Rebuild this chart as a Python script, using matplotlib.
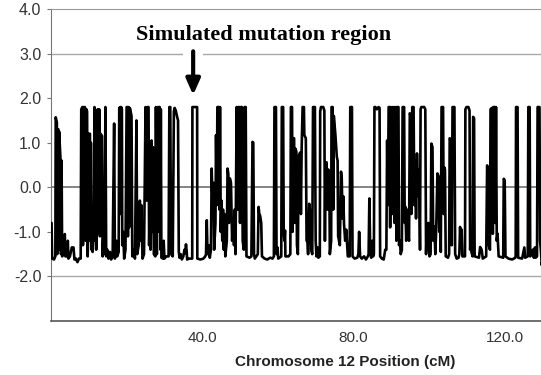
import matplotlib
matplotlib.use("Agg")
import matplotlib.pyplot as plt
from matplotlib.patches import Rectangle

# LOD trace, (position cM, score) pairs in 5 chunks
trace_a = [
    (0.0, -0.80), (0.15, -0.80), (0.3, -1.60), (0.8, -1.62), (1.15, -1.55), (1.25, 1.57),
    (1.55, 1.45), (1.65, -1.50), (1.75, 1.30), (1.95, 1.30), (2.05, -1.40), (2.15, 1.25),
    (2.5, 0.65), (2.65, -1.50), (2.8, 0.60), (2.95, -1.55), (3.3, -1.50), (3.65, -1.05),
    (3.8, -1.55), (4.2, -1.55), (4.45, -1.20), (4.6, -1.60), (5.0, -1.55), (5.5, -1.35),
    (5.95, -1.35), (6.2, -1.62), (6.6, -1.60), (7.0, -1.68), (7.4, -1.60), (7.85, -1.60),
    (8.0, 1.75), (8.3, 1.80), (8.45, -1.30), (8.6, 1.80), (8.8, -0.90), (8.95, 1.80),
    (9.2, -1.20), (9.35, 1.75), (9.55, 1.70), (9.7, -1.55), (9.85, -1.00), (9.95, 1.20),
    (10.3, 1.20), (10.4, -1.20), (10.55, 1.00), (10.7, -1.40), (10.85, -0.70), (11.0, -1.45),
    (11.3, -0.90), (11.5, 1.80), (11.65, -1.20), (11.8, -0.50), (11.95, -1.40), (12.2, -0.90),
    (12.35, 1.75), (12.5, -1.00), (12.6, -0.30), (12.75, 1.75), (12.95, -1.10), (13.1, 1.20),
    (13.5, 1.15), (13.65, -1.55), (13.9, -1.00), (14.1, -1.50), (14.4, 1.80), (14.6, -1.55),
    (14.9, -1.40), (15.2, -1.60), (15.6, -1.45), (15.9, -1.62), (16.3, -1.55), (16.7, 1.43),
    (16.9, -1.60), (17.3, -1.20), (17.5, -1.55), (17.9, -1.45), (18.05, 1.78), (18.3, 1.80),
    (18.45, -0.60), (18.55, 1.80), (18.75, 1.75), (18.85, -1.30), (19.1, -1.00), (19.35, -1.60),
    (19.7, -1.40), (20.0, 1.80), (20.2, 1.80), (20.35, -1.10), (20.5, 1.80), (20.65, -0.90),
    (20.85, 1.78), (21.3, 1.60), (21.5, -1.55), (21.9, -1.40), (22.2, -1.60), (22.6, 1.50),
    (22.8, -1.50), (23.2, -1.30), (23.5, -0.30), (23.7, -1.20), (23.9, -0.40), (24.2, -1.60),
    (24.6, -1.50), (25.0, 1.80), (25.3, -0.30), (25.5, 1.80), (25.8, 1.80), (25.95, -1.30),
]
trace_b = [
    (26.2, -0.20), (26.35, -1.40), (26.6, 1.05), (26.8, -1.00), (27.0, 0.90), (27.2, -1.50),
    (27.6, -1.55), (27.75, 1.80), (28.0, -1.50), (28.2, 1.80), (28.4, -1.00), (28.55, 1.80),
    (28.75, 1.80), (28.95, -1.40), (29.05, 1.75), (29.2, -1.58), (29.6, -1.60), (29.8, -1.20),
    (30.0, -1.60), (30.5, -1.55), (31.1, -1.55), (31.3, 1.80), (31.55, 1.80), (31.75, -1.50),
    (32.2, -1.55), (32.5, 1.70), (32.7, 1.78), (33.0, 1.72), (33.3, 1.60), (33.6, 1.50),
    (33.8, -1.45), (34.0, -1.58), (34.3, -1.50), (34.6, -1.62), (35.0, -1.55), (35.3, -1.40),
    (35.5, -1.48), (35.7, -1.28), (35.9, -1.45), (36.0, -1.62), (36.5, -1.60), (37.0, -1.60),
    (37.35, -1.60), (37.4, 1.80), (38.65, 1.80), (38.7, -1.60), (39.5, -1.62), (40.3, -1.60),
    (40.8, -1.55), (41.0, -1.50), (41.2, -0.74), (41.4, -1.50), (41.8, -1.30), (42.0, -1.58),
    (42.3, -1.40), (42.5, 0.42), (42.8, -0.60), (43.0, 0.10), (43.15, -1.40), (43.5, -0.80),
    (43.65, 1.17), (43.85, -0.40), (44.0, 1.80), (44.4, 1.80), (44.55, -0.50), (44.7, 1.80),
    (44.9, -1.00), (45.1, -0.30), (45.3, -1.20), (45.5, -0.50), (45.7, -1.40), (45.9, -0.60),
    (46.1, -1.55), (46.5, -1.20), (46.7, 0.42), (46.9, 0.30), (47.1, -0.80), (47.3, 0.20),
    (47.6, 0.10), (47.9, -1.20), (48.2, -0.70), (48.4, -1.30), (48.6, -0.50), (48.8, -1.50),
    (49.1, 1.80), (49.4, -0.50), (49.55, 1.80), (49.8, 1.80), (50.0, -0.80), (50.15, 1.80),
    (50.5, 1.80), (50.7, -1.20), (51.0, -1.40), (51.2, 1.80), (51.5, 1.80), (51.7, -1.55),
]
trace_c = [
    (52.5, -1.58), (53.0, -1.55), (53.3, 1.02), (53.5, 1.00), (53.7, -1.50), (53.9, -1.60),
    (54.7, -1.50), (54.9, -0.44), (55.1, -0.60), (55.3, -0.63), (55.6, -0.80), (55.8, -1.55),
    (56.5, -1.60), (57.2, -1.62), (58.0, -1.58), (58.6, -1.60), (58.95, -1.55), (59.1, 1.80),
    (59.5, 1.80), (59.65, -1.50), (59.9, -1.35), (60.1, -1.60), (60.9, -1.55), (61.05, 1.80),
    (61.4, 1.80), (61.55, -1.00), (61.75, -1.20), (61.9, -0.97), (62.0, -1.55), (62.8, -1.55),
    (63.3, -1.50), (63.45, 1.80), (63.75, 1.80), (63.9, -1.00), (64.05, 1.10), (64.3, 1.10),
    (64.45, -0.80), (64.6, 0.87), (64.9, 0.80), (65.05, -1.30), (65.3, -1.50), (65.5, 0.70),
    (65.9, 0.78), (66.1, -0.60), (66.3, 0.90), (66.55, 1.80), (66.9, 1.80), (67.0, 1.17),
    (67.4, 1.10), (67.6, -1.20), (67.8, -1.20), (68.0, -1.50), (68.3, -0.37), (68.6, -0.60),
    (68.8, -1.40), (69.1, -1.50), (69.3, 1.80), (69.8, 1.80), (70.0, -1.20), (70.2, -1.55),
    (70.5, -1.35), (70.7, -1.58), (71.1, -1.55), (71.2, 1.70), (71.4, 1.80), (72.0, 1.80),
    (72.3, 1.72), (72.45, -1.20), (72.6, 0.53), (72.9, 0.56), (73.1, -0.50), (73.3, 0.40),
    (73.6, 0.35), (73.75, -1.50), (74.1, -1.20), (74.2, 1.80), (74.5, 1.80), (74.65, -0.50),
    (74.8, 1.60), (75.2, 1.20), (75.6, 0.68), (75.8, 0.60), (75.95, -1.10), (76.4, -1.30),
    (76.7, 0.35), (76.9, 0.20), (77.1, -0.70), (77.3, -0.20), (77.5, -0.82), (77.8, -1.20),
    (78.1, -0.95), (78.5, -1.55),
]
trace_d = [
    (79.0, -1.55), (79.15, 1.80), (79.6, 1.80), (79.75, -1.55), (80.3, -1.60), (81.0, -1.58),
    (81.3, -1.50), (81.5, -1.00), (81.75, -1.55), (82.2, -1.60), (82.8, -1.55), (83.3, -1.62),
    (83.8, -1.55), (84.0, -1.50), (84.2, -0.25), (84.45, -1.50), (84.7, -1.58), (85.0, -1.20),
    (85.2, -1.55), (85.4, -1.50), (85.55, 1.80), (85.8, 1.80), (86.2, 1.75), (86.6, 1.80),
    (86.9, 1.78), (87.05, -1.55), (87.5, -1.60), (88.0, -1.62), (88.4, -1.40), (88.7, -1.40),
    (88.9, 1.05), (89.1, -0.40), (89.3, 1.80), (89.55, 1.80), (89.7, -0.90), (89.9, 1.80),
    (90.2, -0.60), (90.4, 1.80), (90.7, 1.78), (90.85, -0.80), (91.0, 1.80), (91.2, 1.75),
    (91.35, -1.20), (91.5, 1.80), (91.9, 1.80), (92.05, -1.30), (92.3, -1.20), (92.5, -1.50),
    (92.8, -1.40), (93.0, 1.80), (93.4, 1.80), (93.55, -0.80), (93.75, -0.44), (93.95, -1.20),
    (94.15, -0.50), (94.35, -1.00), (94.7, -1.20), (94.9, 1.66), (95.15, 1.60), (95.3, -0.60),
    (95.55, 1.80), (95.9, 1.80), (96.1, -0.40), (96.3, 0.60), (96.55, -0.70), (96.8, 0.76),
    (97.1, -0.20), (97.35, 0.40), (97.6, -1.40), (97.75, 1.75), (97.95, 1.80), (98.7, 1.80),
    (99.0, 1.75), (99.2, -1.50), (99.4, -0.90), (99.6, -1.40), (99.8, -0.80), (100.1, -1.55),
    (100.4, -1.50), (100.6, 0.98), (100.9, 0.90), (101.1, -1.20), (101.4, -0.88), (101.65, -1.50),
    (101.9, -0.90), (102.2, 0.31), (102.5, 0.25), (102.7, -1.00), (102.9, -0.40), (103.1, -1.45),
    (103.3, 1.80), (103.7, 1.80), (103.85, -0.60), (104.0, 0.45), (104.2, 0.40), (104.4, -1.55),
]
trace_e = [
    (105.0, -1.58), (105.3, -1.50), (105.45, 1.10), (105.8, 1.05), (106.0, -1.30), (106.2, 1.80),
    (106.7, 1.80), (106.9, -1.50), (107.3, -1.60), (107.8, -1.58), (108.0, -1.50), (108.2, -0.89),
    (108.4, -1.30), (108.6, -0.95), (108.8, -1.55), (109.5, -1.55), (109.6, 1.75), (109.9, 1.80),
    (110.4, 1.80), (110.7, 1.72), (110.85, -1.40), (111.0, -1.20), (111.2, -1.45), (111.5, -1.55),
    (111.65, 1.58), (111.9, 1.55), (112.05, -1.55), (113.2, -1.58), (113.5, -1.34), (113.9, -1.40),
    (114.2, -1.60), (115.1, -1.55), (115.35, 0.49), (115.6, 0.40), (115.8, -1.30), (116.1, -1.40),
    (116.25, 1.75), (116.6, 1.78), (116.75, -1.04), (116.9, -1.04), (117.0, 1.80), (117.4, 1.80),
    (117.55, -0.80), (117.7, 1.80), (117.9, -1.20), (118.1, -1.04), (118.4, -1.55), (119.6, -1.58),
    (119.75, 0.19), (120.0, 0.15), (120.2, -1.55), (121.0, -1.60), (122.0, -1.62), (122.8, -1.58),
    (122.9, -1.55), (123.0, 1.80), (123.4, 1.80), (123.55, -1.58), (124.6, -1.60), (125.2, -1.35),
    (125.4, -1.58), (126.1, -1.55), (126.25, 1.80), (126.6, 1.80), (126.75, -1.55), (127.4, -1.40),
    (127.7, -1.58), (128.0, -1.35), (128.2, -1.58), (128.55, -1.55), (128.7, 1.80), (129.2, 1.80),
    (129.35, -1.20), (129.6, -1.45), (129.8, -1.75), (130.0, -1.60),
]

y_ticks = [-2, -1, 0, 1, 2, 3, 4]
x_ticks = [40, 80, 120]
grid_levels = [3, -2]
arrow_pos = 37.6

position_cm = [p for seg in (trace_a, trace_b, trace_c, trace_d, trace_e) for p, v in seg]
lod = [v for seg in (trace_a, trace_b, trace_c, trace_d, trace_e) for p, v in seg]

plt.rcParams['font.family'] = ['Liberation Sans', 'DejaVu Sans']

fig = plt.figure(figsize=(5.41, 3.75), dpi=100)
ax = fig.add_axes([51 / 541, 1 - 321 / 375, 1 - 51 / 541, (321 - 9) / 375])

for g in grid_levels:
    ax.axhline(g, color='#a8a8a8', lw=1.0, zorder=1)
ax.axhline(0, color='#707070', lw=1.2, zorder=1)

ax.plot(position_cm, lod, color='black', lw=1.9, solid_joinstyle='round', zorder=3)

ax.set_xlim(0, 129.6)
ax.set_ylim(-3, 4)
ax.set_yticks(y_ticks)
ax.set_yticklabels(['%.1f' % t for t in y_ticks])
ax.set_xticks(x_ticks)
ax.set_xticklabels(['%.1f' % t for t in x_ticks])
ax.tick_params(axis='y', length=3, width=0.8, color='#777777', pad=4,
               labelsize=11.5, labelcolor='#333333')
ax.tick_params(axis='x', length=0, pad=7, labelsize=11, labelcolor='#333333')

ax.spines['right'].set_visible(False)
ax.spines['top'].set_color('#999999')
ax.spines['left'].set_color('#777777')
ax.spines['bottom'].set_color('#555555')
ax.spines['bottom'].set_linewidth(1.2)

# white gap in the 3.0 gridline behind the arrow
ax.add_patch(Rectangle((arrow_pos - 2.8, 2.9), 5.4, 0.2, facecolor='white',
                       edgecolor='none', zorder=2))
ax.annotate('', xy=(arrow_pos, 2.07), xytext=(arrow_pos, 3.05),
            arrowprops=dict(arrowstyle='-|>,head_width=0.42,head_length=0.95',
                            lw=3.0, color='black', shrinkA=0, shrinkB=0),
            zorder=5)

ax.text(56.3, 3.42, 'Simulated mutation region', family=['Liberation Serif', 'DejaVu Serif'],
        fontweight='bold', fontsize=16, ha='center', va='center', zorder=6)

fig.text(345 / 541, 1 - 362 / 375, 'Chromosome 12 Position (cM)', fontweight='bold',
         fontsize=11, ha='center', va='center', color='#222222')

fig.savefig('out.png', dpi=100)
